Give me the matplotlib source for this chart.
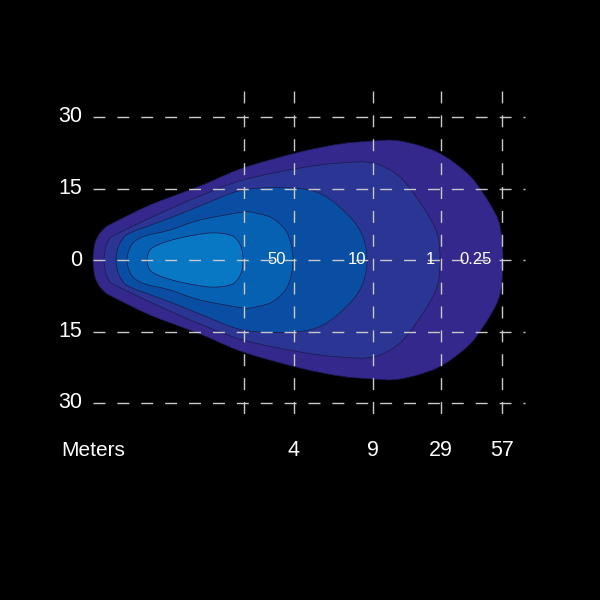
import numpy as np
import matplotlib
matplotlib.use("Agg")
import matplotlib.pyplot as plt
from matplotlib.path import Path
from matplotlib.patches import PathPatch

plt.rcParams['font.family'] = ['Liberation Sans', 'DejaVu Sans']

# beam outline per lux level: distance along chart (schematic units) and half width
# half widths read in pixels then scaled to meters (143 px = 30 m)
PX_TO_M = 30 / 143

lux_labels = ["0.25", "1", "10", "50", ""]
lux_colors = ["#34288c", "#2b3593", "#0a4ea4", "#0661b2", "#0878c4"]

x_025 = [93, 95, 100, 106, 113, 150, 200, 243, 300, 340, 373, 400, 437, 467, 483, 497, 501.5, 503]
h_025 = [0, 17, 27, 33, 37, 55, 74, 92, 108, 116, 119, 119, 108, 87, 67, 43, 25, 0]

x_1 = [104, 106, 109, 113, 150, 200, 243, 300, 340, 373, 400, 423, 437, 440]
h_1 = [0, 14, 20, 24, 42, 64, 80, 92, 97, 97, 83, 53, 27, 0]

x_10 = [116, 118, 122, 130, 170, 200, 243, 293, 323, 350, 363, 367]
h_10 = [0, 12, 20, 27, 42, 54, 70, 72, 65, 43, 23, 0]

x_50 = [127, 129, 134, 145, 170, 200, 243, 250, 270, 283, 290, 293]
h_50 = [0, 10, 18, 24, 30, 40, 48, 48, 43, 33, 20, 0]

x_in = [147, 150, 160, 180, 210, 230, 238, 242, 243]
h_in = [0, 10, 16, 22, 27, 25, 19, 10, 0]

outlines = [(x_025, h_025), (x_1, h_1), (x_10, h_10), (x_50, h_50), (x_in, h_in)]

# grid and axis labels
y_ticks = [30, 15, 0, -15, -30]
x_grid = [244, 294, 373, 441, 502]
x_tick_labels = ["", "4", "9", "29", "57"]
lux_label_x = [476, 430, 357, 277]


def smooth_closed_path(px, py):
    # closed catmull-rom outline drawn as cubic bezier segments
    pts = np.column_stack([px, py])
    n = len(pts)
    verts = [pts[0]]
    codes = [Path.MOVETO]
    for i in range(n):
        p0, p1, p2, p3 = pts[i - 1], pts[i], pts[(i + 1) % n], pts[(i + 2) % n]
        verts += [p1 + (p2 - p0) / 6, p2 - (p3 - p1) / 6, p2]
        codes += [Path.CURVE4] * 3
    verts.append(pts[0])
    codes.append(Path.CLOSEPOLY)
    return Path(verts, codes)


fig = plt.figure(figsize=(6, 6), dpi=100)
fig.patch.set_facecolor("black")
ax = fig.add_axes([0, 0, 1, 1])
ax.set_facecolor("black")
ax.set_xlim(0, 600)
ax.set_ylim(-340 * PX_TO_M, 260 * PX_TO_M)
ax.axis("off")

for (xs, hs), col in zip(outlines, lux_colors):
    xs = np.array(xs, dtype=float)
    hs = np.array(hs, dtype=float) * PX_TO_M
    px = np.concatenate([xs, xs[-2:0:-1]])
    py = np.concatenate([hs, -hs[-2:0:-1]])
    patch = PathPatch(smooth_closed_path(px, py), fc=col, ec="#1b1a4a", lw=0.5, zorder=2)
    ax.add_patch(patch)

dash = (0, (8.6, 8.6))
for yv in y_ticks:
    ax.plot([93, 525], [yv, yv], color="#c8c8c8", lw=1.0, ls=dash, zorder=3)
for xv in x_grid:
    ax.plot([xv, xv], [169 * PX_TO_M, -165 * PX_TO_M], color="#c8c8c8", lw=1.0, ls=dash, zorder=3)

for yv in y_ticks:
    ax.text(82, yv, str(abs(yv)), color="white", fontsize=15.5,
            ha="right", va="center", zorder=4)

label_y = (260 - 450) * PX_TO_M
ax.text(61, label_y, "Meters", color="white", fontsize=15, ha="left", va="center")
for xv, lab in zip(x_grid, x_tick_labels):
    ax.text(xv, label_y, lab, color="white", fontsize=15.5, ha="center", va="center")

for xv, lab in zip(lux_label_x, lux_labels):
    ax.text(xv, 0, lab, color="white", fontsize=12, ha="center", va="center", zorder=4)

fig.savefig("out.png", dpi=100, facecolor="black")
